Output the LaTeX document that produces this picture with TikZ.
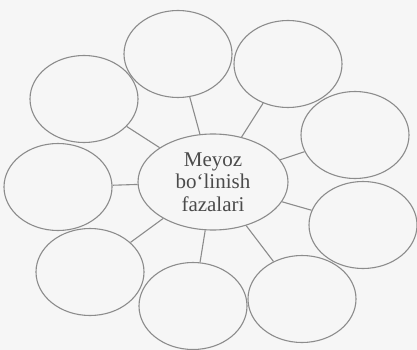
\documentclass[tikz,border=0pt]{standalone}
\usepackage{fontspec}
\setmainfont{Liberation Serif}
\usetikzlibrary{shapes.geometric}
\definecolor{linegray}{RGB}{140,140,140}
\definecolor{textgray}{RGB}{75,75,75}
\definecolor{paper}{RGB}{246,246,246}
\begin{document}
\begin{tikzpicture}[x=1pt,y=-1pt,
  sat/.style={ellipse,draw=linegray,line width=1.1pt,inner sep=0pt,minimum width=108pt,minimum height=87pt},
  hub/.style={ellipse,draw=linegray,line width=1.1pt,inner sep=0pt,minimum width=150pt,minimum height=96pt,
    align=center,text=textgray,font=\fontsize{21}{22.5}\selectfont},
  link/.style={draw=linegray,line width=1.1pt}]
\fill[paper] (0,0) rectangle (417,350);
\useasboundingbox (0,0) rectangle (417,350);
\node[hub] (c) at (213,182) {Meyoz\\bo‘linish\\fazalari};
\node[sat] (s1) at (178,54) {};
\node[sat] (s2) at (288,64) {};
\node[sat] (s3) at (84,99) {};
\node[sat] (s4) at (355,135) {};
\node[sat] (s5) at (58,187) {};
\node[sat] (s6) at (363,225) {};
\node[sat] (s7) at (90,272) {};
\node[sat] (s8) at (193,306) {};
\node[sat] (s9) at (302,299) {};
\foreach \s in {s1,s2,s3,s4,s5,s6,s7,s8,s9}
  \draw[link] (c) -- (\s);
\end{tikzpicture}
\end{document}
